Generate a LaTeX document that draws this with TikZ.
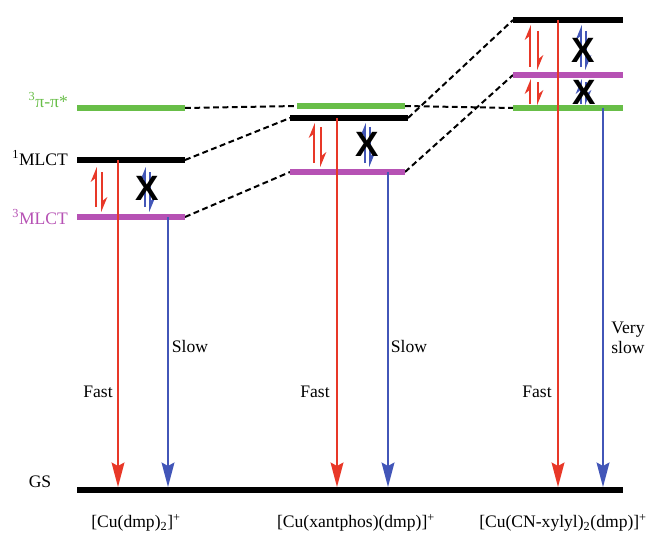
\documentclass[tikz,border=0pt]{standalone}
\usepackage{fontspec}
\setmainfont{Liberation Serif}
\newfontfamily\crossfont{Liberation Sans}
\usetikzlibrary{arrows.meta}

\definecolor{lvgreen}{RGB}{104,190,72}
\definecolor{lvmagenta}{RGB}{182,82,180}
\definecolor{decred}{RGB}{232,56,40}
\definecolor{decblue}{RGB}{66,86,184}

\tikzset{
  level/.style={line width=5.3pt},
  link/.style={line width=1.7pt, dash pattern=on 5pt off 3pt},
  decay/.style={line width=1.4pt, -{Stealth[length=21pt, width=11pt, inset=3pt]}, shorten >=2.5pt},
  eqarrow/.style={line width=1.4pt, -{Stealth[harpoon, length=11pt, width=9pt]}},
  lbl/.style={font=\fontsize{15}{17}\selectfont},
  forbid/.style={font=\crossfont\bfseries\fontsize{30}{30}\selectfont, inner sep=0pt},
}

\begin{document}
\begin{tikzpicture}[x=0.03cm, y=-0.03cm]
        \useasboundingbox (0, 0) rectangle (651, 536);
        % level end points
        \coordinate (g1L) at (77, 108);  \coordinate (g1R) at (185, 108);
        \coordinate (s1L) at (77, 160);  \coordinate (s1R) at (185, 160);
        \coordinate (t1L) at (77, 217);  \coordinate (t1R) at (185, 217);
        \coordinate (g2L) at (297, 106); \coordinate (g2R) at (405, 106);
        \coordinate (s2L) at (290, 118); \coordinate (s2R) at (408, 118);
        \coordinate (t2L) at (290, 172); \coordinate (t2R) at (405, 172);
        \coordinate (s3L) at (513, 20);  \coordinate (s3R) at (623, 20);
        \coordinate (t3L) at (513, 75);  \coordinate (t3R) at (623, 75);
        \coordinate (g3L) at (513, 108); \coordinate (g3R) at (623, 108);
        \coordinate (gsL) at (77, 490);  \coordinate (gsR) at (623, 490);

        % dashed correlation lines
        \draw[link] (g1R) -- (g2L);
        \draw[link] (s1R) -- (s2L);
        \draw[link] (t1R) -- (t2L);
        \draw[link] (g2R) -- (g3L);
        \draw[link] (s2R) -- (s3L);
        \draw[link] (t2R) -- (t3L);

        % levels
        \draw[level, lvgreen] (g1L) -- (g1R);
        \draw[level] (s1L) -- (s1R);
        \draw[level, lvmagenta] (t1L) -- (t1R);
        \draw[level, lvgreen] (g2L) -- (g2R);
        \draw[level] (s2L) -- (s2R);
        \draw[level, lvmagenta] (t2L) -- (t2R);
        \draw[level] (s3L) -- (s3R);
        \draw[level, lvmagenta] (t3L) -- (t3R);
        \draw[level, lvgreen] (g3L) -- (g3R);
        \draw[level] (gsL) -- (gsR);

        \node[lbl, anchor=east, color=lvgreen] (lg) at (72, 100) {\textsuperscript{3}π-π*};
        \node[lbl, anchor=east] (ls) at (72, 158) {\textsuperscript{1}MLCT};
        \node[lbl, anchor=east, color=lvmagenta] (lt) at (72, 217) {\textsuperscript{3}MLCT};
        \node[lbl] (lgs) at (40, 482) {GS};

        % radiative decays
        \coordinate (f1) at (118, 160); \coordinate (w1) at (168, 217);
        \coordinate (f2) at (337, 118); \coordinate (w2) at (388, 172);
        \coordinate (f3) at (558, 20);  \coordinate (w3) at (603, 108);
        \draw[decay, decred] (f1) -- (f1 |- gsL);
        \draw[decay, decblue] (w1) -- (w1 |- gsL);
        \draw[decay, decred] (f2) -- (f2 |- gsL);
        \draw[decay, decblue] (w2) -- (w2 |- gsL);
        \draw[decay, decred] (f3) -- (f3 |- gsL);
        \draw[decay, decblue] (w3) -- (w3 |- gsL);
        \node[lbl] (fa1) at (98, 392) {Fast};
        \node[lbl] (sl1) at (190, 346) {Slow};
        \node[lbl] (fa2) at (315, 392) {Fast};
        \node[lbl] (sl2) at (409, 346) {Slow};
        \node[lbl] (fa3) at (537, 392) {Fast};
        \node[lbl, align=left] (sl3) at (628, 338) {Very\\slow};

        % intersystem crossing
        \draw[eqarrow, decred] (96, 207) -- (96, 167);
        \draw[eqarrow, decred] (102, 172) -- (102, 212);
        \draw[eqarrow, decblue] (145, 207) -- (145, 167);
        \draw[eqarrow, decblue] (150, 172) -- (150, 212);
        \node[forbid] (x1) at (147, 188) {X};
        \draw[eqarrow, decred] (314, 163) -- (314, 123);
        \draw[eqarrow, decred] (321, 127) -- (321, 167);
        \draw[eqarrow, decblue] (365, 163) -- (365, 123);
        \draw[eqarrow, decblue] (370, 127) -- (370, 167);
        \node[forbid] (x2) at (367, 144) {X};
        \draw[eqarrow, decred] (530, 67) -- (530, 25);
        \draw[eqarrow, decred] (538, 31) -- (538, 70);
        \draw[eqarrow, decblue] (581, 67) -- (581, 25);
        \draw[eqarrow, decblue] (586, 31) -- (586, 70);
        \node[forbid] (x3) at (583, 50) {X};
        \draw[eqarrow, decred] (530, 104) -- (530, 79);
        \draw[eqarrow, decred] (538, 82) -- (538, 105);
        \draw[eqarrow, decblue] (581, 104) -- (581, 79);
        \draw[eqarrow, decblue] (586, 82) -- (586, 105);
        \node[forbid] (x4) at (584, 92) {X};

        % complexes
        \node[lbl] (c1) at (136, 523) {[Cu(dmp)\textsubscript{2}]\textsuperscript{+}};
        \node[lbl] (c2) at (356, 523) {[Cu(xantphos)(dmp)]\textsuperscript{+}};
        \node[lbl] (c3) at (563, 523) {[Cu(CN-xylyl)\textsubscript{2}(dmp)]\textsuperscript{+}};
\end{tikzpicture}
\end{document}
